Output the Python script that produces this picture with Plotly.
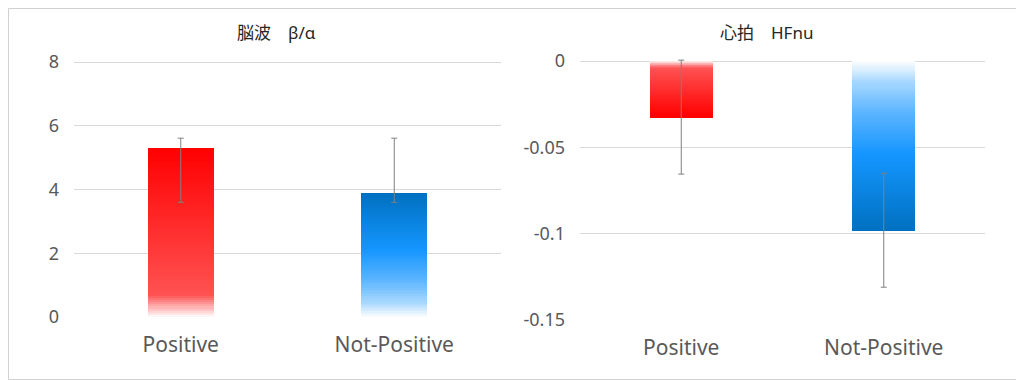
import plotly.graph_objects as go

# ---- data ----
categories = ["Positive", "Not-Positive"]

eeg_title = "脳波\u3000β/α"
eeg_values = [5.30, 3.88]
eeg_err_plus = [0.31, 1.73]
eeg_err_minus = [1.70, 0.28]
eeg_ticks = [0, 2, 4, 6, 8]
eeg_ticktext = ["0", "2", "4", "6", "8"]

hr_title = "心拍\u3000HFnu"
hr_values = [-0.0325, -0.0985]
hr_err_plus = [0.033, 0.0335]
hr_err_minus = [0.033, 0.0325]
hr_ticks = [0, -0.05, -0.1, -0.15]
hr_ticktext = ["0", "-0.05", "-0.1", "-0.15"]

# gradient stops (fraction from bar base to bar tip, colour)
red_stops = [(0.0, (255, 255, 255)), (0.13, (255, 82, 82)), (1.0, (255, 0, 0))]
blue_stops = [(0.0, (255, 255, 255)), (0.12, (168, 216, 255)), (0.3, (93, 181, 255)),
              (0.55, (20, 150, 255)), (1.0, (0, 112, 192))]
series_stops = [red_stops, blue_stops]

N_SEG = 80
BAR_WIDTH = 0.31
TICK_COLOR = "#595959"
GRID_COLOR = "#D9D9D9"
ERR_COLOR = "#808080"
FONT = "Noto Sans, Noto Sans CJK JP, sans-serif"


def interp(stops, t):
    for (t0, c0), (t1, c1) in zip(stops[:-1], stops[1:]):
        if t0 <= t <= t1:
            f = (t - t0) / (t1 - t0) if t1 > t0 else 0
            c = [round(a + (b - a) * f) for a, b in zip(c0, c1)]
            return "rgb(%d,%d,%d)" % tuple(c)
    return "rgb(%d,%d,%d)" % stops[-1][1]


fig = go.Figure()


def add_panel(values, eplus, eminus, xa, ya):
    for i, (cat, v) in enumerate(zip(categories, values)):
        stops = series_stops[i]
        xs, ys, bases, cols = [], [], [], []
        for k in range(N_SEG):
            xs.append(cat)
            ys.append(v / N_SEG)
            bases.append(v * k / N_SEG)
            cols.append(interp(stops, (k + 0.5) / N_SEG))
        fig.add_trace(go.Bar(
            x=xs, y=ys, base=bases, width=BAR_WIDTH,
            marker=dict(color=cols, line=dict(width=0)),
            xaxis=xa, yaxis=ya, showlegend=False, hoverinfo="skip",
        ))
    fig.add_trace(go.Scatter(
        x=categories, y=values, mode="markers",
        marker=dict(size=1, color="rgba(0,0,0,0)"),
        error_y=dict(type="data", symmetric=False, array=eplus, arrayminus=eminus,
                     color=ERR_COLOR, thickness=1, width=3),
        xaxis=xa, yaxis=ya, showlegend=False,
    ))


add_panel(eeg_values, eeg_err_plus, eeg_err_minus, "x", "y")
add_panel(hr_values, hr_err_plus, hr_err_minus, "x2", "y2")

W, H = 1024, 380
OFF = 8  # page offset of the figure in the browser window


def fx(px):
    return (px - OFF) / W


def fy(py):
    return 1 - (py - OFF) / H


xcommon = dict(type="category", showgrid=False, zeroline=False, showline=False,
               ticks="", automargin=False,
               tickfont=dict(family=FONT, size=21, color=TICK_COLOR),
               ticklabelstandoff=13, categoryorder="array", categoryarray=categories)
ycommon = dict(showgrid=True, gridcolor=GRID_COLOR, gridwidth=1, zeroline=False,
               showline=False, ticks="", ticklabelstandoff=14, automargin=False,
               tickfont=dict(family=FONT, size=18, color=TICK_COLOR))

# small head-room above the top gridline so it is drawn (px)
PAD = 3
eeg_top = 8 + 8 * PAD / (317 - 62)
hr_top = 0 + 0.15 * PAD / (320 - 61)

fig.update_layout(
    width=W, height=H,
    margin=dict(l=0, r=0, t=0, b=0, autoexpand=False),
    paper_bgcolor="white", plot_bgcolor="white",
    barmode="overlay", bargap=0,
    xaxis=dict(domain=[fx(74), fx(501)], anchor="y", **xcommon),
    yaxis=dict(domain=[fy(317), fy(62 - PAD)], anchor="x", range=[0, eeg_top],
               tickvals=eeg_ticks, ticktext=eeg_ticktext, **ycommon),
    xaxis2=dict(domain=[fx(580), fx(985)], anchor="y2", **xcommon),
    yaxis2=dict(domain=[fy(320), fy(61 - PAD)], anchor="x2", range=[-0.15, hr_top],
                tickvals=hr_ticks, ticktext=hr_ticktext, **ycommon),
    annotations=[
        dict(text=eeg_title, x=fx(276), y=fy(33), xref="paper", yref="paper",
             showarrow=False, xanchor="center", yanchor="middle",
             font=dict(family=FONT, size=17, color="#262626")),
        dict(text=hr_title, x=fx(766), y=fy(33), xref="paper", yref="paper",
             showarrow=False, xanchor="center", yanchor="middle",
             font=dict(family=FONT, size=17, color="#262626")),
    ],
    shapes=[dict(type="rect", xref="paper", yref="paper",
                 x0=0.5 / W, y0=fy(379.5), x1=fx(1023.5), y1=1 - 0.5 / H,
                 line=dict(color="#D0D0D0", width=1))],
)

fig.write_html("out.html")
